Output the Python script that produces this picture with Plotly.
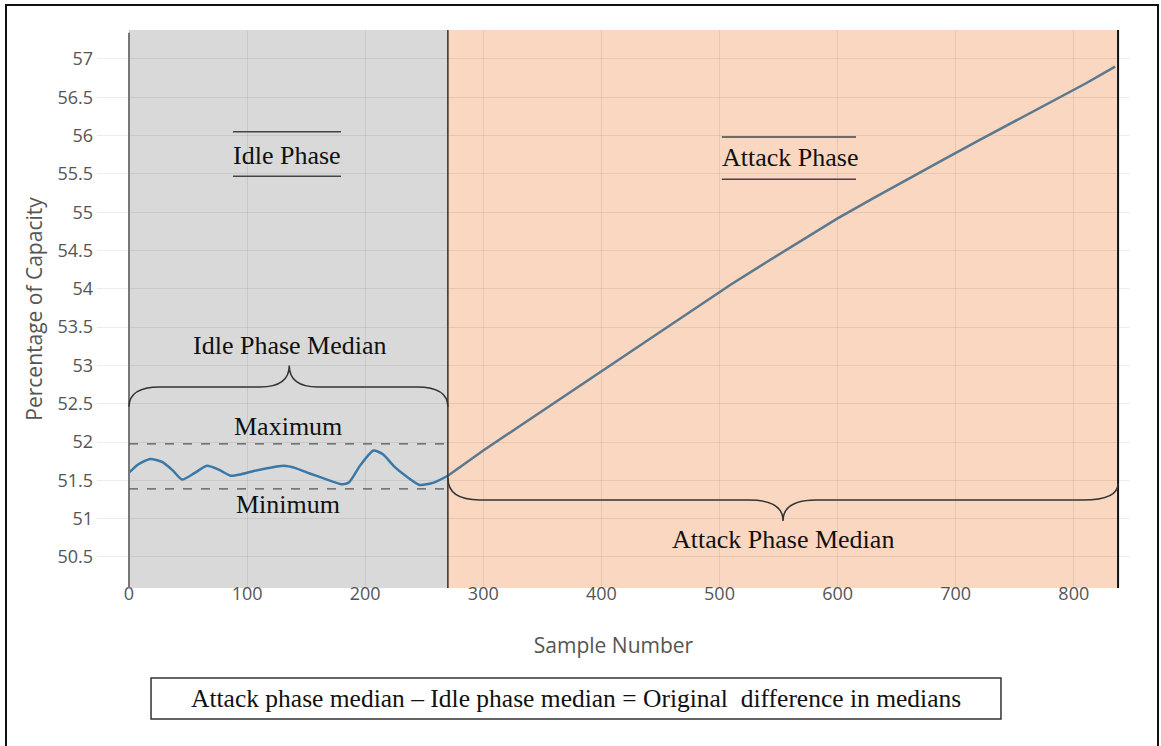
import plotly.graph_objects as go

# idle phase samples
idle_x = [0, 8, 18, 28, 37, 45, 55, 66, 76, 86, 95, 105, 118, 131, 141, 153, 166, 180, 186, 196, 207, 215, 224, 235, 246, 258, 270]
idle_y = [51.60, 51.71, 51.78, 51.74, 51.63, 51.51, 51.59, 51.69, 51.64, 51.56, 51.58, 51.62, 51.66, 51.69, 51.66, 51.59, 51.52, 51.45, 51.47, 51.70, 51.89, 51.84, 51.69, 51.55, 51.44, 51.47, 51.56]

# attack phase samples
attack_x = [270, 300, 330, 360, 390, 420, 450, 480, 510, 540, 570, 600, 630, 660, 690, 720, 750, 780, 810, 835]
attack_y = [51.56, 51.89, 52.20, 52.51, 52.83, 53.14, 53.45, 53.76, 54.06, 54.35, 54.64, 54.92, 55.18,
            55.44, 55.69, 55.94, 56.19, 56.43, 56.68, 56.90]

idle_end = 270
attack_end = 837.5
idle_max = 51.975
idle_min = 51.39

x_ticks = [0, 100, 200, 300, 400, 500, 600, 700, 800]
y_ticks = [50.5, 51, 51.5, 52, 52.5, 53, 53.5, 54, 54.5, 55, 55.5, 56, 56.5, 57]

serif = "Liberation Serif, Times New Roman, serif"

fig = go.Figure()
fig.add_trace(go.Scatter(x=idle_x, y=idle_y, mode="lines", line_shape="spline",
                         line=dict(color="#3a78a8", width=2.5, smoothing=0.6), showlegend=False))
fig.add_trace(go.Scatter(x=attack_x, y=attack_y, mode="lines",
                         line=dict(color="#5a7890", width=2.5), showlegend=False))

# phase shading
fig.add_shape(type="rect", xref="x", yref="paper", x0=0, x1=idle_end, y0=0, y1=1,
              fillcolor="#d9d9d9", line_width=0, layer="below")
fig.add_shape(type="rect", xref="x", yref="paper", x0=idle_end, x1=attack_end, y0=0, y1=1,
              fillcolor="#f9d7c0", line_width=0, layer="below")
fig.add_shape(type="line", xref="x", yref="paper", x0=0, x1=0, y0=0, y1=0.995,
              line=dict(color="#777777", width=2))
fig.add_shape(type="line", xref="x", yref="paper", x0=idle_end, x1=idle_end, y0=0, y1=1,
              line=dict(color="#3d2b20", width=1.5))
fig.add_shape(type="line", xref="x", yref="paper", x0=attack_end, x1=attack_end, y0=0, y1=1,
              line=dict(color="#111111", width=2))

# max / min dashed lines
for yv in (idle_max, idle_min):
    fig.add_shape(type="line", xref="x", yref="y", x0=0, x1=idle_end, y0=yv, y1=yv,
                  line=dict(color="#555555", width=1.3, dash="dash"))

# lines around phase labels
for x0, x1, ys in ((88, 179.5, (56.05, 55.47)), (502, 615.6, (55.98, 55.43))):
    for yv in ys:
        fig.add_shape(type="line", xref="x", yref="y", x0=x0, x1=x1, y0=yv, y1=yv,
                      line=dict(color="#444444", width=1.5))

# braces
fig.add_shape(type="path", xref="x", yref="y",
              path="M 0,52.46 Q 0,52.72 26,52.72 L 111,52.72 Q 135.7,52.72 135.7,53.0 "
                   "Q 135.7,52.72 160,52.72 L 244,52.72 Q 270,52.72 270,52.46",
              line=dict(color="#333333", width=1.5))
fig.add_shape(type="path", xref="x", yref="y",
              path="M 270,51.53 Q 270,51.244 297,51.244 L 525,51.244 Q 553.8,51.244 553.8,50.97 "
                   "Q 553.8,51.244 582,51.244 L 808,51.244 Q 837.5,51.244 837.5,51.46",
              line=dict(color="#333333", width=1.5))

# bottom box and outer frame
fig.add_shape(type="rect", xref="paper", yref="paper", x0=0.0523, x1=0.8751, y0=-0.2348, y1=-0.1613,
              line=dict(color="#333333", width=1.5), fillcolor="white")
fig.add_shape(type="rect", xref="paper", yref="paper", x0=-0.0881, x1=1.0271, y0=-0.30, y1=1.0448,
              line=dict(color="#111111", width=2))

notes = [
    ("Idle Phase", 133.8, 55.74),
    ("Attack Phase", 559.7, 55.71),
    ("Idle Phase Median", 136.3, 53.26),
    ("Maximum", 134.6, 52.20),
    ("Minimum", 134.6, 51.19),
    ("Attack Phase Median", 553.8, 50.73),
]
for txt, xv, yv in notes:
    fig.add_annotation(x=xv, y=yv, xref="x", yref="y", text=txt, showarrow=False,
                       xanchor="center", yanchor="middle",
                       font=dict(family=serif, size=26, color="#111111"))

fig.add_annotation(x=0.4637, y=-0.1989, xref="paper", yref="paper",
                   text="Attack phase median – Idle phase median = Original  difference in medians",
                   showarrow=False, xanchor="center", yanchor="middle",
                   font=dict(family=serif, size=25.5, color="#111111"))

fig.update_xaxes(range=[-27.1, 847.6], tickvals=x_ticks, showgrid=True,
                 gridcolor="rgba(0,0,0,0.07)", zeroline=False, ticklabelstandoff=-7,
                 tickfont=dict(size=18, color="#555555"),
                 title=dict(text="Sample Number", font=dict(size=21, color="#555555"), standoff=34))
fig.update_yaxes(range=[50.095, 57.378], tickvals=y_ticks, showgrid=True,
                 gridcolor="rgba(0,0,0,0.07)", zeroline=False, ticklabelstandoff=3,
                 tickfont=dict(size=18, color="#555555"),
                 title=dict(text="Percentage of Capacity", font=dict(size=21, color="#555555"), standoff=9))

fig.update_layout(width=1161, height=746, margin=dict(l=97, r=31, t=30, b=158),
                  plot_bgcolor="white", paper_bgcolor="white",
                  font=dict(family="Open Sans, verdana, arial, sans-serif"))

# drop the page's default body margin so the figure sits at the window's corner
fig.write_html("out.html", config={"displayModeBar": False},
               post_script="document.body.style.margin='0px';")
